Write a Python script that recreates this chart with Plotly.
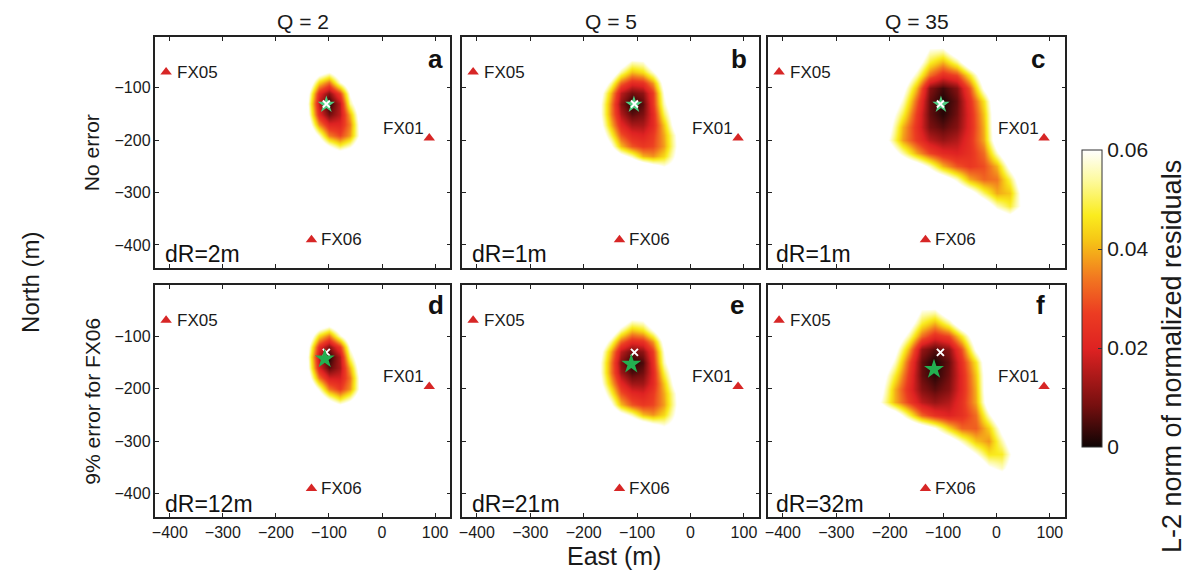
import plotly.graph_objects as go

W, H = 1186, 574

# ---------------- data (misfit in units of 1e-3; values >= 60 show white) -------------
A_X = [-160, -140, -120, -100, -80, -60, -40, -20]
A_Y = [-50, -70, -90, -110, -130, -150, -170, -190, -210, -230]
A_Z = [
    [80, 80, 80, 80, 80, 80, 80, 80],
    [80, 80, 67, 59, 71, 80, 80, 80],
    [80, 73, 44, 33, 58, 73, 80, 80],
    [79, 63, 22, 10, 27, 61, 79, 80],
    [79, 59, 16, 1, 16, 54, 74, 80],
    [79, 62, 22, 8, 16, 40, 70, 80],
    [80, 69, 36, 21, 21, 35, 67, 80],
    [80, 79, 58, 35, 28, 38, 65, 80],
    [80, 80, 73, 59, 48, 56, 73, 80],
    [80, 80, 80, 79, 74, 77, 80, 80],
]

B_X = [-190, -170, -150, -130, -110, -90, -70, -50, -30, -10]
B_Y = [-30, -50, -70, -90, -110, -130, -150, -170, -190, -210, -230, -250, -270]
B_Z = [
    [80, 80, 80, 80, 80, 80, 80, 80, 80, 80],
    [80, 80, 80, 70, 56, 58, 72, 80, 80, 80],
    [80, 80, 73, 54, 41, 45, 58, 75, 80, 80],
    [80, 75, 55, 32, 22, 24, 37, 66, 79, 80],
    [80, 66, 41, 16, 8, 11, 26, 60, 77, 80],
    [80, 62, 36, 11, 1, 6, 25, 56, 73, 80],
    [80, 62, 36, 15, 6, 9, 22, 50, 69, 80],
    [80, 65, 41, 22, 14, 14, 22, 42, 66, 80],
    [80, 71, 50, 30, 22, 20, 26, 39, 58, 77],
    [80, 77, 62, 41, 30, 26, 28, 38, 57, 75],
    [80, 80, 77, 65, 55, 40, 37, 44, 60, 77],
    [80, 80, 80, 80, 79, 73, 65, 59, 65, 79],
    [80, 80, 80, 80, 80, 80, 80, 80, 80, 80],
]

C_X = [-225, -200, -175, -150, -125, -100, -75, -50, -25, 0, 25, 50, 75]
C_Y = [0, -25, -50, -75, -100, -125, -150, -175, -200, -225, -250, -275, -300, -325, -350, -375]
C_Z = [
    [80, 80, 80, 80, 80, 80, 80, 80, 80, 80, 80, 80, 80],
    [80, 80, 80, 78, 59, 58, 74, 80, 80, 80, 80, 80, 80],
    [80, 80, 79, 68, 48, 40, 53, 73, 80, 80, 80, 80, 80],
    [80, 80, 74, 55, 33, 23, 28, 47, 71, 80, 80, 80, 80],
    [80, 80, 65, 40, 10, 4, 10, 30, 62, 79, 80, 80, 80],
    [80, 75, 57, 31, 7, 1, 7, 24, 46, 75, 80, 80, 80],
    [80, 67, 49, 26, 7, 2, 8, 22, 42, 73, 80, 80, 80],
    [79, 63, 40, 24, 9, 6, 10, 22, 40, 73, 80, 80, 80],
    [76, 58, 38, 26, 16, 12, 15, 24, 39, 70, 80, 80, 80],
    [80, 70, 55, 39, 28, 22, 20, 24, 33, 57, 77, 80, 80],
    [80, 80, 76, 69, 56, 40, 30, 26, 29, 40, 64, 80, 80],
    [80, 80, 80, 79, 76, 69, 56, 39, 32, 34, 50, 74, 80],
    [80, 80, 80, 80, 80, 79, 76, 67, 51, 39, 42, 67, 80],
    [80, 80, 80, 80, 80, 80, 80, 78, 72, 56, 48, 64, 80],
    [80, 80, 80, 80, 80, 80, 80, 80, 80, 74, 67, 76, 80],
    [80, 80, 80, 80, 80, 80, 80, 80, 80, 80, 80, 80, 80],
]

D_X = [-160, -140, -120, -100, -80, -60, -40, -20]
D_Y = [-60, -80, -100, -120, -140, -160, -180, -200, -220, -240]
D_Z = [
    [80, 80, 80, 80, 80, 80, 80, 80],
    [80, 80, 69, 61, 73, 80, 80, 80],
    [80, 73, 45, 34, 57, 73, 80, 80],
    [79, 63, 23, 10, 26, 61, 79, 80],
    [79, 59, 15, 1, 15, 52, 74, 80],
    [79, 61, 20, 6, 14, 40, 70, 80],
    [80, 68, 34, 19, 19, 34, 66, 80],
    [80, 79, 57, 34, 26, 37, 65, 80],
    [80, 80, 73, 58, 46, 56, 73, 80],
    [80, 80, 80, 79, 74, 77, 80, 80],
]

E_X = [-190, -170, -150, -130, -110, -90, -70, -50, -30, -10]
E_Y = [-50, -70, -90, -110, -130, -150, -170, -190, -210, -230, -250, -270, -290]
E_Z = [
    [80, 80, 80, 80, 80, 80, 80, 80, 80, 80],
    [80, 80, 80, 72, 58, 60, 74, 80, 80, 80],
    [80, 80, 73, 54, 41, 45, 59, 76, 80, 80],
    [80, 74, 54, 32, 22, 24, 37, 65, 79, 80],
    [80, 65, 40, 16, 8, 11, 26, 59, 77, 80],
    [80, 61, 35, 10, 1, 5, 23, 56, 73, 80],
    [80, 61, 35, 13, 5, 8, 21, 49, 69, 80],
    [80, 64, 41, 22, 13, 13, 22, 42, 65, 80],
    [80, 71, 50, 30, 22, 20, 26, 39, 58, 77],
    [80, 77, 62, 41, 30, 26, 28, 38, 57, 75],
    [80, 80, 77, 65, 55, 41, 37, 44, 60, 77],
    [80, 80, 80, 80, 79, 73, 65, 59, 65, 79],
    [80, 80, 80, 80, 80, 80, 80, 80, 80, 80],
]

F_X = [-240, -215, -190, -165, -140, -115, -90, -65, -40, -15, 10, 35, 60]
F_Y = [-25, -50, -75, -100, -125, -150, -175, -200, -225, -250, -275, -300, -325, -350, -375, -400]
F_Z = [
    [80, 80, 80, 80, 80, 80, 80, 80, 80, 80, 80, 80, 80],
    [80, 80, 80, 78, 59, 58, 74, 80, 80, 80, 80, 80, 80],
    [80, 80, 79, 68, 48, 40, 53, 73, 80, 80, 80, 80, 80],
    [80, 80, 74, 55, 33, 23, 28, 47, 71, 80, 80, 80, 80],
    [80, 80, 65, 40, 12, 6, 11, 30, 62, 79, 80, 80, 80],
    [80, 75, 57, 30, 7, 1, 7, 24, 46, 75, 80, 80, 80],
    [80, 67, 48, 26, 7, 2, 8, 22, 42, 73, 80, 80, 80],
    [79, 63, 40, 23, 10, 6, 10, 22, 40, 73, 80, 80, 80],
    [74, 58, 40, 27, 16, 12, 15, 24, 39, 70, 80, 80, 80],
    [80, 76, 70, 50, 32, 24, 20, 24, 33, 57, 77, 80, 80],
    [80, 80, 80, 78, 70, 60, 44, 32, 31, 43, 64, 80, 80],
    [80, 80, 80, 80, 80, 78, 70, 56, 42, 37, 55, 74, 80],
    [80, 80, 80, 80, 80, 80, 80, 74, 60, 46, 47, 67, 80],
    [80, 80, 80, 80, 80, 80, 80, 80, 78, 62, 56, 70, 80],
    [80, 80, 80, 80, 80, 80, 80, 80, 80, 78, 71, 79, 80],
    [80, 80, 80, 80, 80, 80, 80, 80, 80, 80, 80, 80, 80],
]

Q_TITLES = ["Q = 2", "Q = 5", "Q = 35"]
ROW_TITLES = ["No error", "9% error for FX06"]
PANEL_LETTERS = ["a", "b", "c", "d", "e", "f"]
DR_LABELS = ["dR=2m", "dR=1m", "dR=1m", "dR=12m", "dR=21m", "dR=32m"]
STATION_NAMES = ["FX05", "FX01", "FX06"]
STATION_X = [-407, 89, -133]
STATION_Y = [-70, -196, -390]
STAR_X = [-105, -106, -104, -108, -111, -117]
STAR_Y = [-132, -132, -132, -143, -153, -163]
TRUE_X = -105
TRUE_Y = -131
X_TICKS = [-400, -300, -200, -100, 0, 100]
Y_TICKS = [-400, -300, -200, -100]
CBAR_TICKS = [0, 0.02, 0.04, 0.06]
CBAR_TEXT = ["0", "0.02", "0.04", "0.06"]

GRIDS = [(A_X, A_Y, A_Z), (B_X, B_Y, B_Z), (C_X, C_Y, C_Z),
         (D_X, D_Y, D_Z), (E_X, E_Y, E_Z), (F_X, F_Y, F_Z)]

# ---------------- styling / layout ----------------
FONT = "Liberation Sans, Arial, Helvetica, sans-serif"
INK = "#1a1a1a"
HOT = [
    [0.0, "rgb(14,4,4)"],
    [0.14, "rgb(118,15,15)"],
    [0.33, "rgb(222,34,34)"],
    [0.45, "rgb(236,60,34)"],
    [0.57, "rgb(242,120,32)"],
    [0.7, "rgb(246,200,22)"],
    [0.78, "rgb(250,236,30)"],
    [0.9, "rgb(253,250,160)"],
    [1.0, "rgb(255,255,255)"],
]
COL_PX = [(152, 448), (460, 758), (767, 1065)]
ROW_PX = [(37, 268), (285, 517)]
X_RANGE = [-427, 129]
Y_RANGE = [-444, -3]
LETTER_PX = [(433, 59), (737, 59), (1038, 59), (433, 305), (735, 305), (1040, 305)]
DR_PX = [(160, 254), (468, 254), (773, 254), (160, 504), (468, 504), (773, 504)]


def fx(p):
    return p / W


def fy(p):
    return 1 - p / H


fig = go.Figure()
layout = dict(
    width=W, height=H, margin=dict(l=0, r=0, t=0, b=0),
    paper_bgcolor="white", plot_bgcolor="white", showlegend=False,
    font=dict(family=FONT, color=INK),
)
annotations = []

for i in range(6):
    r, c = divmod(i, 3)
    n = "" if i == 0 else str(i + 1)
    xa, ya = "x" + n, "y" + n
    gx, gy, gz = GRIDS[i]
    zz = [[v / 1000.0 for v in row] for row in gz][::-1]
    fig.add_trace(go.Heatmap(
        x=gx, y=gy[::-1], z=zz, xaxis=xa, yaxis=ya,
        zmin=0, zmax=0.06, colorscale=HOT, zsmooth="best",
        hoverinfo="skip", showscale=(i == 0),
        colorbar=dict(
            x=fx(1082), xanchor="left", xpad=0,
            y=fy(298.5), yanchor="middle", ypad=0,
            len=297 / H, lenmode="fraction",
            thickness=20, thicknessmode="pixels",
            outlinewidth=1, outlinecolor="#333",
            tickvals=CBAR_TICKS, ticktext=CBAR_TEXT,
            ticks="inside", ticklen=4, tickcolor="#333",
            tickfont=dict(size=21, family=FONT, color=INK),
        ),
    ))
    # stations
    fig.add_trace(go.Scatter(
        x=STATION_X, y=STATION_Y, xaxis=xa, yaxis=ya, mode="markers",
        marker=dict(symbol="triangle-up", size=10, color="rgb(215,38,38)"),
        hoverinfo="skip",
    ))
    star_col = "rgb(80,205,130)" if r == 0 else "rgb(35,175,80)"
    star = go.Scatter(x=[STAR_X[i]], y=[STAR_Y[i]], xaxis=xa, yaxis=ya, mode="markers",
                      marker=dict(symbol="star", size=15 if r else 13, color=star_col), hoverinfo="skip")
    cross = go.Scatter(x=[TRUE_X], y=[TRUE_Y], xaxis=xa, yaxis=ya, mode="markers",
                       marker=dict(symbol="x-thin", size=7, line=dict(width=2, color="white")),
                       hoverinfo="skip")
    if r == 0:
        fig.add_trace(star)
        fig.add_trace(cross)
    else:
        fig.add_trace(cross)
        fig.add_trace(star)

    x0, x1 = COL_PX[c]
    y0, y1 = ROW_PX[r]
    common = dict(showgrid=False, zeroline=False, showline=True, mirror="ticks",
                  linecolor="#222", linewidth=1.5, ticks="inside", ticklen=4,
                  tickcolor="#222", tickfont=dict(size=16, family=FONT, color=INK))
    layout["xaxis" + n] = dict(domain=[fx(x0), fx(x1)], range=X_RANGE, anchor=ya,
                               tickvals=X_TICKS, showticklabels=(r == 1), **common)
    layout["yaxis" + n] = dict(domain=[fy(y1), fy(y0)], range=Y_RANGE, anchor=xa,
                               tickvals=Y_TICKS, showticklabels=(c == 0), **common)

    # station labels
    annotations.append(dict(x=STATION_X[0], y=STATION_Y[0], xref=xa, yref=ya, text=STATION_NAMES[0],
                            showarrow=False, xanchor="left", xshift=9,
                            font=dict(size=17, family=FONT, color=INK)))
    annotations.append(dict(x=STATION_X[1], y=STATION_Y[1], xref=xa, yref=ya, text=STATION_NAMES[1],
                            showarrow=False, xanchor="right", xshift=-3, yshift=10,
                            font=dict(size=17, family=FONT, color=INK)))
    annotations.append(dict(x=STATION_X[2], y=STATION_Y[2], xref=xa, yref=ya, text=STATION_NAMES[2],
                            showarrow=False, xanchor="left", xshift=8,
                            font=dict(size=17, family=FONT, color=INK)))
    lx, ly = LETTER_PX[i]
    annotations.append(dict(x=fx(lx), y=fy(ly), xref="paper", yref="paper", text="<b>%s</b>" % PANEL_LETTERS[i],
                            showarrow=False, xanchor="center", yanchor="middle",
                            font=dict(size=26, family=FONT, color="#111")))
    dx, dy = DR_PX[i]
    annotations.append(dict(x=fx(dx), y=fy(dy), xref="paper", yref="paper", text=DR_LABELS[i],
                            showarrow=False, xanchor="left", yanchor="middle",
                            font=dict(size=23, family=FONT, color="#111")))

for c in range(3):
    annotations.append(dict(x=fx((COL_PX[c][0] + COL_PX[c][1]) / 2), y=fy(21), xref="paper", yref="paper",
                            text=Q_TITLES[c], showarrow=False, xanchor="center", yanchor="middle",
                            font=dict(size=21, family=FONT, color=INK)))
for r in range(2):
    annotations.append(dict(x=fx(88), y=fy((ROW_PX[r][0] + ROW_PX[r][1]) / 2), xref="paper", yref="paper",
                            text=ROW_TITLES[r], showarrow=False, textangle=-90,
                            xanchor="center", yanchor="middle",
                            font=dict(size=21, family=FONT, color=INK)))
annotations.append(dict(x=fx(26), y=fy(282), xref="paper", yref="paper", text="North (m)",
                        showarrow=False, textangle=-90, xanchor="center", yanchor="middle",
                        font=dict(size=24, family=FONT, color=INK)))
annotations.append(dict(x=fx(612), y=fy(556), xref="paper", yref="paper", text="East (m)",
                        showarrow=False, xanchor="center", yanchor="middle",
                        font=dict(size=25, family=FONT, color=INK)))
annotations.append(dict(x=fx(1172), y=fy(357), xref="paper", yref="paper",
                        text="L-2 norm of normalized residuals",
                        showarrow=False, textangle=-90, xanchor="center", yanchor="middle",
                        font=dict(size=27, family=FONT, color=INK)))

layout["annotations"] = annotations
fig.update_layout(**layout)
fig.write_html("out.html", config={"displayModeBar": False},
               post_script="document.body.style.margin='0';document.body.style.padding='0';")
